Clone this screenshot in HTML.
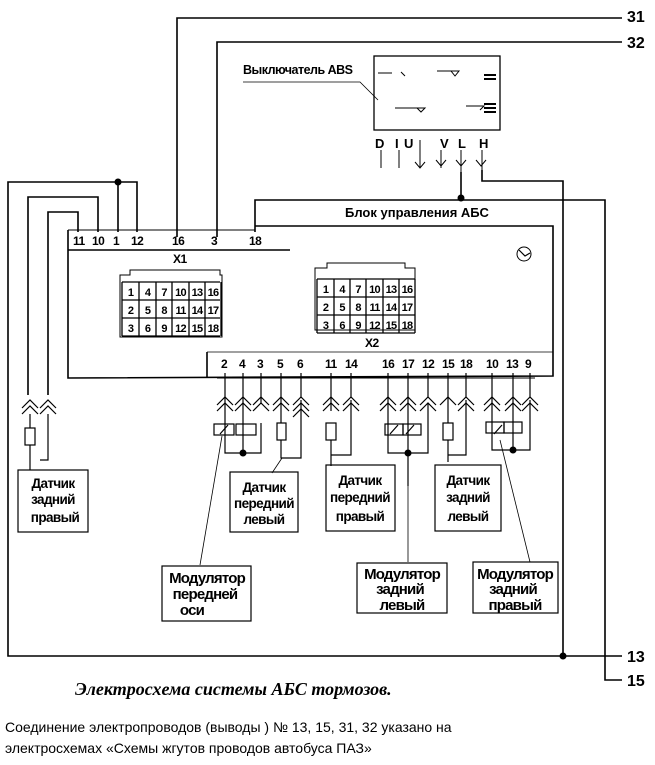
<!DOCTYPE html>
<html><head><meta charset="utf-8"><style>
body{margin:0;background:#fff}
svg{display:block}
text{font-family:"Liberation Sans",sans-serif;font-weight:bold;fill:#000}
</style></head><body>
<svg width="655" height="765" viewBox="0 0 655 765" xmlns="http://www.w3.org/2000/svg">
<g stroke="#000" stroke-width="1.6" fill="none">
<polyline points="177,237 177,18 622,18"/>
<polyline points="217,237 217,42 622,42"/>
<rect x="374" y="56" width="126" height="74" stroke-width="1.3"/>
<polyline points="243,82 360,82 378,100" stroke-width="0.8"/>
<path d="M378,73 h14 M401,72 l4,4 M437,71 h22 l-4,5 -4,-5 M395,108 h30 l-4,4 -4,-4 M466,106 h18 l-4,4" stroke-width="1"/>
<path d="M484,75h12M484,79h12M484,104h12M484,108h12M484,112h12" stroke-width="2"/>
<path d="M381,150v18M399,150v18M420,140v28M441,150v18M461,150v22M482,150v20" stroke-width="1"/>
<path d="M436,160l5,6 5,-6M456,160l5,6 5,-6M476,160l5,6 5,-6M415,162l5,6 5,-6" stroke-width="1"/>
<polyline points="461,172 461,200"/>
<polyline points="482,170 482,181 563,181 563,656"/>
<polyline points="255,232 255,200 605,200 605,680 622,680"/>
<polyline points="563,656 622,656"/>
<polyline points="255,226 553,226 553,376 68,378 68,230"/>
<line x1="68" y1="250" x2="290" y2="250"/>
<line x1="207" y1="352" x2="207" y2="378"/>
<line x1="207" y1="352" x2="553" y2="352" stroke-width="0.8"/>
<line x1="68" y1="230" x2="255" y2="230" stroke-width="1"/>
<polyline points="118,182 118,232"/>
<polyline points="137,232 137,182 8,182 8,656 563,656"/>
<polyline points="98,232 98,197 28,197 28,395"/>
<polyline points="78,232 78,212 48,212 48,395"/>
<path d="M22,408l8,-8 8,8M22,414l8,-8 8,8M40,408l8,-8 8,8M40,414l8,-8 8,8" stroke-width="1.2"/>
<path d="M30,414v14M30,445v25M48,414v46h-8" stroke-width="1.2"/>
<rect x="25" y="428" width="10" height="17" stroke-width="1.2"/>
<line x1="217" y1="378" x2="535" y2="378" stroke-width="1"/>
<g stroke-width="1.2">
<path d="M225,373v80h36v-30M243,373v80M261,373v30M281,373v50M281,440v18h20v-58M301,373v24"/>
<path d="M331,373v38M331,440v26M331,440v15h20v-55M351,373v24"/>
<path d="M388,373v70v10h40v-50M408,373v113M428,373v24"/>
<path d="M448,373v50M448,440v22M448,440v15h18v-55M466,373v24"/>
<path d="M492,373v30v35v12h38v-50M513,373v77M530,373v24"/>
<path d="M217,405l8,-8 8,8M217,411l8,-8 8,8M235,405l8,-8 8,8M235,411l8,-8 8,8M253,405l8,-8 8,8M253,411l8,-8 8,8M273,405l8,-8 8,8M273,411l8,-8 8,8M293,405l8,-8 8,8M293,411l8,-8 8,8M293,417l8,-8 8,8"/>
<path d="M323,405l8,-8 8,8M323,411l8,-8 8,8M343,405l8,-8 8,8M343,411l8,-8 8,8"/>
<path d="M380,405l8,-8 8,8M380,411l8,-8 8,8M400,405l8,-8 8,8M400,411l8,-8 8,8M420,405l8,-8 8,8M420,411l8,-8 8,8"/>
<path d="M440,405l8,-8 8,8M458,405l8,-8 8,8M458,411l8,-8 8,8"/>
<path d="M484,405l8,-8 8,8M484,411l8,-8 8,8M505,405l8,-8 8,8M505,411l8,-8 8,8M522,405l8,-8 8,8M522,411l8,-8 8,8"/>
<rect x="214" y="424" width="20" height="11"/><rect x="236" y="424" width="20" height="11"/>
<path d="M220,434l8,-9M390,434l8,-9M406,434l8,-9M494,434l8,-9"/>
<rect x="277" y="423" width="9" height="17"/>
<rect x="326" y="423" width="10" height="17"/>
<rect x="385" y="424" width="18" height="11"/><rect x="403" y="424" width="18" height="11"/>
<rect x="443" y="423" width="10" height="17"/>
<rect x="486" y="422" width="18" height="11"/><rect x="504" y="422" width="18" height="11"/>
</g>
<path d="M222,436L200,565M282,458l-10,15M408,450v112M500,440l30,122" stroke-width="0.8"/>
<rect x="18" y="470" width="70" height="62" stroke-width="1.2"/>
<rect x="230" y="472" width="68" height="60" stroke-width="1.2"/>
<rect x="326" y="465" width="69" height="66" stroke-width="1.2"/>
<rect x="435" y="465" width="66" height="66" stroke-width="1.2"/>
<rect x="162" y="566" width="89" height="55" stroke-width="1.2"/>
<rect x="357" y="563" width="90" height="50" stroke-width="1.2"/>
<rect x="473" y="562" width="85" height="51" stroke-width="1.2"/>
<path d="M120,275h10v-5h90v5h2v62h-102z" stroke-width="1"/>
<path d="M315,268h12v-5h78v5h10v62h-100z" stroke-width="1"/>
<circle cx="524" cy="254" r="7" stroke-width="1"/>
<path d="M519,250l6,6 5,-3" stroke-width="1.2"/>
</g>
<g fill="#000">
<circle cx="118" cy="182" r="3.5"/><circle cx="461" cy="198" r="3.5"/><circle cx="563" cy="656" r="3.5"/>
<circle cx="243" cy="453" r="3.5"/><circle cx="408" cy="453" r="3.5"/><circle cx="513" cy="450" r="3.5"/>
</g>
<g font-size="16"><text x="627" y="22">31</text><text x="627" y="48">32</text><text x="627" y="662">13</text><text x="627" y="686">15</text></g>
<text x="243" y="74" font-size="12.5" letter-spacing="-0.5">Выключатель ABS</text>
<g font-size="13"><text x="375" y="148">D</text><text x="395" y="148">I</text><text x="404" y="148">U</text><text x="440" y="148">V</text><text x="458" y="148">L</text><text x="479" y="148">H</text></g>
<text x="345" y="217" font-size="13">Блок управления АБС</text>
<g font-size="12" letter-spacing="-0.5"><text x="73" y="245">11</text><text x="92" y="245">10</text><text x="113" y="245">1</text><text x="131" y="245">12</text><text x="172" y="245">16</text><text x="211" y="245">3</text><text x="249" y="245">18</text>
<text x="173" y="263">X1</text><text x="365" y="347">X2</text>
<text x="221" y="368">2</text><text x="239" y="368">4</text><text x="257" y="368">3</text><text x="277" y="368">5</text><text x="297" y="368">6</text><text x="325" y="368">11</text><text x="345" y="368">14</text><text x="382" y="368">16</text><text x="402" y="368">17</text><text x="422" y="368">12</text><text x="442" y="368">15</text><text x="460" y="368">18</text><text x="486" y="368">10</text><text x="506" y="368">13</text><text x="525" y="368">9</text></g>
<g font-size="11" text-anchor="middle" letter-spacing="-0.8">
<text x="130.5" y="296">1</text><text x="147.5" y="296">4</text><text x="164" y="296">7</text><text x="180.5" y="296">10</text><text x="197" y="296">13</text><text x="213" y="296">16</text>
<text x="130.5" y="314">2</text><text x="147.5" y="314">5</text><text x="164" y="314">8</text><text x="180.5" y="314">11</text><text x="197" y="314">14</text><text x="213" y="314">17</text>
<text x="130.5" y="332">3</text><text x="147.5" y="332">6</text><text x="164" y="332">9</text><text x="180.5" y="332">12</text><text x="197" y="332">15</text><text x="213" y="332">18</text>
<text x="325.5" y="293">1</text><text x="342" y="293">4</text><text x="358" y="293">7</text><text x="374.5" y="293">10</text><text x="391" y="293">13</text><text x="407" y="293">16</text>
<text x="325.5" y="311">2</text><text x="342" y="311">5</text><text x="358" y="311">8</text><text x="374.5" y="311">11</text><text x="391" y="311">14</text><text x="407" y="311">17</text>
<text x="325.5" y="329">3</text><text x="342" y="329">6</text><text x="358" y="329">9</text><text x="374.5" y="329">12</text><text x="391" y="329">15</text><text x="407" y="329">18</text>
</g>
<g stroke="#000" fill="none" stroke-width="1.3">
<path d="M122,282h98M122,300h98M122,318h98M122,336h98M122,282v54M139,282v54M156,282v54M172,282v54M189,282v54M205,282v54M221,282v54"/>
<path d="M317,279h98M317,297h98M317,315h98M317,333h98M317,279v54M334,279v54M350,279v54M366,279v54M383,279v54M399,279v54M415,279v54"/>
</g>
<g font-size="13.5" text-anchor="middle" letter-spacing="-0.6">
<text x="53" y="488">Датчик</text><text x="53" y="504">задний</text><text x="55" y="522">правый</text>
<text x="264" y="492">Датчик</text><text x="264" y="508">передний</text><text x="264" y="524">левый</text>
<text x="360" y="485">Датчик</text><text x="360" y="502">передний</text><text x="360" y="521">правый</text>
<text x="468" y="485">Датчик</text><text x="468" y="502">задний</text><text x="468" y="521">левый</text>
</g>
<g font-size="15" text-anchor="middle" letter-spacing="-0.8">
<text x="207" y="583">Модулятор</text><text x="205" y="599">передней</text><text x="192" y="615">оси</text>
<text x="402" y="579">Модулятор</text><text x="400" y="594">задний</text><text x="402" y="610">левый</text>
<text x="515" y="579">Модулятор</text><text x="513" y="594">задний</text><text x="515" y="610">правый</text>
</g>
<text x="75" y="695" font-style="italic" font-size="18" style="font-family:'Liberation Serif',serif;font-weight:bold">Электросхема системы АБС тормозов.</text>
<g font-size="14">
<text x="5" y="732" style="font-weight:normal">Соединение электропроводов (выводы ) № 13, 15, 31, 32 указано на</text>
<text x="5" y="753" style="font-weight:normal">электросхемах «Схемы жгутов проводов автобуса ПАЗ»</text></g>
</svg>
</body></html>
